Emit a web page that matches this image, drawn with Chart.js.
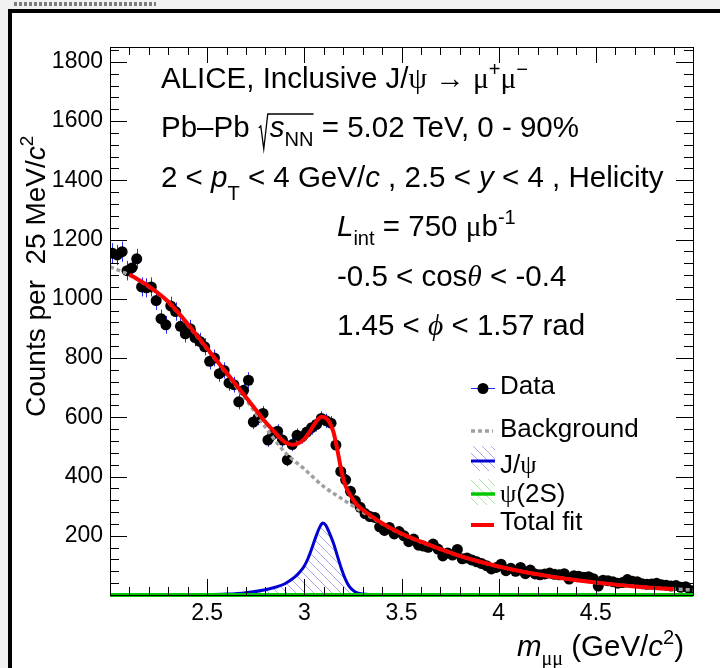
<!DOCTYPE html>
<html><head><meta charset="utf-8">
<script src="https://cdn.jsdelivr.net/npm/chart.js@4.4.0/dist/chart.umd.min.js"></script>
<style>html,body{margin:0;padding:0;background:#f0f0f0;overflow:hidden}
#wrap{position:absolute;left:0;top:0;width:720px;height:668px}
canvas{display:block}</style></head>
<body><div id="wrap"><canvas id="c" width="720" height="668"></canvas></div>
<script>
// ---- data ----
const binLow = 2.0, binWidth = 0.025;
const counts = [
1154,1148,1159,1095,1104,1135,1040,1037,1040,994,
933,912,976,957,907,882,899,869,856,838,
789,800,747,758,716,710,652,691,725,584,
598,613,523,542,553,523,456,508,539,534,
550,565,576,596,588,580,506,417,389,350,
318,296,275,265,262,230,218,228,206,214,
200,180,189,168,165,161,172,155,132,142,
135,154,122,125,118,112,106,99,88,93,
104,82,90,80,93,72,84,71,68,71,
74,70,68,72,54,65,63,60,62,55,
30,50,48,45,40,42,52,46,45,38,
36,37,40,35,33,30,32,26,28,15];
const bkgMass = [2.0,2.1,2.2,2.3,2.4,2.5,2.6,2.7,2.8,2.9,3.0,3.1,3.2,3.3,3.4,3.5,3.6,3.7,3.8,3.9,4.0,4.1,4.2,4.3,4.4,4.5,4.6,4.7,4.8,4.9,5.0];
const bkgValues = [1108,1080,1040,988,912,830,746,660,566,482,425,366,322,280,241,206,179,155,132,113,96,82,70,59,50,42,35,29,24,20,17];
const jpsiMass = [2.0,2.3,2.5,2.6,2.7,2.8,2.85,2.9,2.95,2.98,3.00,3.02,3.04,3.06,3.08,3.095,3.11,3.13,3.15,3.17,3.19,3.21,3.23,3.26,3.30,3.40,3.6,5.0];
const jpsiValues = [0,0.3,1,3,8,18,26,38,60,80,98,125,160,198,230,243,236,208,175,132,90,55,30,11,3,0.5,0,0];
const psi2sMass = [2.0,3.0,4.0,5.0];
const psi2sValues = [0,0,0,0];
const fitMass = [2.10,2.20,2.30,2.40,2.50,2.60,2.70,2.80,2.85,2.90,2.94,2.97,3.00,3.03,3.05,3.07,3.09,3.11,3.13,3.15,3.17,3.19,3.21,3.24,3.27,3.32,3.40,3.50,3.60,3.70,3.80,3.90,4.00,4.10,4.20,4.30,4.40,4.50,4.60,4.70,4.80,4.90];
const fitValues = [1082,1042,990,915,832,750,668,584,548,516,507,512,527,553,575,593,602,598,582,550,490,422,372,333,305,278,242,207,180,155,132,113,96,82,70,59,50,42,35,29,24,20];
const xTicks = [2.5,3,3.5,4,4.5];
const xTickLabels = ['2.5','3','3.5','4','4.5'];
const yTicks = [200,400,600,800,1000,1200,1400,1600,1800];
const yTickLabels = ['200','400','600','800','1000','1200','1400','1600','1800'];
const legendLabels = ['Data','Background','J/ψ','ψ(2S)','Total fit'];

// ---- styles ----
const SANS = '"Liberation Sans", Arial, Helvetica, sans-serif';
const SERIF = '"Liberation Serif", "DejaVu Serif", "Times New Roman", serif';
const canvas = document.getElementById('c');
const ctx0 = canvas.getContext('2d');
function hatch(color, s){
  const t = document.createElement('canvas'); t.width = s; t.height = s;
  const g = t.getContext('2d'); g.strokeStyle = color; g.lineWidth = 1;
  g.beginPath(); g.moveTo(-1,-1); g.lineTo(s+1,s+1);
  g.moveTo(s-2,-2); g.lineTo(s+2,2); g.moveTo(-2,s-2); g.lineTo(2,s+2); g.stroke();
  return ctx0.createPattern(t,'repeat');
}
const blueHatch = hatch('rgba(80,80,235,0.5)', 9);
const greenHatch = hatch('rgba(70,210,70,0.5)', 9);

const pts = (xs, ys) => xs.map((v,i)=>({x:v, y:ys[i]}));
const dataPts = counts.map((c,i)=>({x: binLow + binWidth*(i+0.5), y: c}));

function segFont(s, size){
  const fs = (s.sub||s.sup) ? size*0.68 : size;
  return (s.it?'italic ':'') + fs.toFixed(1) + 'px ' + (s.g?SERIF:SANS);
}
function richWidth(ctx, segs, size){
  let w = 0; segs.forEach(s=>{ ctx.font = segFont(s,size); w += ctx.measureText(s.t).width + (s.dx||0); }); return w;
}
function drawRich(ctx, x, y, segs, size){
  let cx = x;
  for (const s of segs){
    ctx.font = segFont(s, size);
    const dy = s.sub ? size*(s.low||0.3) : (s.sup ? -size*0.42 : 0);
    cx += (s.dx||0);
    ctx.fillText(s.t, cx, y+dy);
    cx += ctx.measureText(s.t).width;
  }
  return cx;
}

const decor = {
  id:'decor',
  beforeDraw(chart){
    const c = chart.ctx;
    c.save();
    c.fillStyle = '#f0f0f0'; c.fillRect(0,0,720,668);
    c.fillStyle = '#ffffff'; c.fillRect(12,13,708,655);
    c.fillStyle = '#000'; c.fillRect(8,9,712,4); c.fillRect(8,9,4,659);
    c.strokeStyle = '#7a7a7a'; c.lineWidth = 4; c.setLineDash([3,2]);
    c.beginPath(); c.moveTo(14,4); c.lineTo(156,4); c.stroke();
    c.restore();
  },
  beforeDatasetsDraw(chart){
    const c = chart.ctx, x = chart.scales.x, y = chart.scales.y;
    c.save(); c.strokeStyle = '#2a2aff'; c.lineWidth = 1;
    c.beginPath();
    dataPts.forEach(p=>{
      const e = Math.sqrt(p.y);
      const px = Math.round(x.getPixelForValue(p.x))+0.5;
      c.moveTo(px, y.getPixelForValue(p.y+e)); c.lineTo(px, y.getPixelForValue(p.y-e));
    });
    c.stroke(); c.restore();
  },
  afterDraw(chart){
    const c = chart.ctx, a = chart.chartArea, x = chart.scales.x, y = chart.scales.y;
    c.save();
    // frame
    c.strokeStyle = '#000'; c.lineWidth = 1;
    c.strokeRect(Math.round(a.left)+0.5, Math.round(a.top)+0.5, Math.round(a.right-a.left), Math.round(a.bottom-a.top));
    c.beginPath();
    for (let k=0; k<=30; k++){
      const v = 2 + k*0.1;
      const px = Math.round(x.getPixelForValue(v))+0.5;
      const L = (k%5===0) ? 16 : 8;
      c.moveTo(px, a.bottom); c.lineTo(px, a.bottom-L);
      c.moveTo(px, a.top); c.lineTo(px, a.top+L);
    }
    for (let k=1; k*40<=1850; k++){
      const v = k*40;
      const py = Math.round(y.getPixelForValue(v))+0.5;
      const L = (k%5===0) ? 17 : 9;
      c.moveTo(a.left, py); c.lineTo(a.left+L, py);
      c.moveTo(a.right, py); c.lineTo(a.right-L, py);
    }
    c.stroke();

    // annotation text
    c.fillStyle = '#000'; c.textBaseline = 'alphabetic'; c.textAlign = 'left';
    const F = 29.5;
    drawRich(c, 161, 88, [{t:'ALICE, Inclusive J/'},{t:'ψ',g:1},{t:' '},{t:'→',g:1},{t:' '},{t:'μ',g:1},{t:'+',sup:1},{t:'μ',g:1},{t:'−',sup:1}], F);
    let xx = drawRich(c, 161, 137, [{t:'Pb–Pb '}], F);
    // radical sign
    const wR = richWidth(c, [{t:'s',it:1},{t:'NN',sub:1}], F);
    c.lineWidth = 1.3; c.beginPath();
    c.moveTo(xx+1, 137-9); c.lineTo(xx+3, 137-11); c.lineTo(xx+6, 137+12); c.lineTo(xx+10, 137-23); c.lineTo(xx+12+wR, 137-23);
    c.stroke();
    drawRich(c, xx+12, 137, [{t:'s',it:1},{t:'NN',sub:1},{t:' = 5.02 TeV, 0 - 90%'}], F);
    drawRich(c, 161, 187, [{t:'2 < '},{t:'p',it:1},{t:'T',sub:1,low:0.45},{t:' < 4 GeV/'},{t:'c',it:1},{t:' , 2.5 < '},{t:'y',it:1},{t:' < 4 , Helicity'}], F);
    drawRich(c, 337, 236, [{t:'L',it:1},{t:'int',sub:1},{t:' = 750 '},{t:'μ',g:1},{t:'b'},{t:'-1',sup:1}], F);
    drawRich(c, 337, 286, [{t:'-0.5 < cos'},{t:'θ',g:1,it:1},{t:' < -0.4'}], F);
    drawRich(c, 337, 335, [{t:'1.45 < '},{t:'ϕ',g:1,it:1},{t:' < 1.57 rad'}], F);

    // legend
    const LF = 26, lx = 500;
    c.strokeStyle = '#2a2aff'; c.lineWidth = 1; c.setLineDash([]);
    c.beginPath(); c.moveTo(471,388.5); c.lineTo(495,388.5); c.stroke();
    c.fillStyle = '#000'; c.beginPath(); c.arc(483,388.5,5.5,0,Math.PI*2); c.fill();
    c.strokeStyle = '#a0a0a0'; c.lineWidth = 3.5; c.setLineDash([4,3]);
    c.beginPath(); c.moveTo(471,431); c.lineTo(493,431); c.stroke(); c.setLineDash([]);
    c.fillStyle = blueHatch; c.fillRect(471,446,24,25);
    c.strokeStyle = '#0000d0'; c.lineWidth = 3; c.beginPath(); c.moveTo(471,461); c.lineTo(495,461); c.stroke();
    c.fillStyle = greenHatch; c.fillRect(471,479,24,26);
    c.strokeStyle = '#00c800'; c.lineWidth = 3.5; c.beginPath(); c.moveTo(471,494); c.lineTo(495,494); c.stroke();
    c.strokeStyle = '#ff0000'; c.lineWidth = 4; c.beginPath(); c.moveTo(471,525); c.lineTo(494,525); c.stroke();
    c.fillStyle = '#000';
    drawRich(c, lx, 394, [{t:legendLabels[0]}], LF);
    drawRich(c, lx, 437, [{t:legendLabels[1]}], LF);
    drawRich(c, lx, 473, [{t:'J/'},{t:'ψ',g:1}], LF);
    drawRich(c, lx, 502, [{t:'ψ',g:1},{t:'(2S)'}], LF);
    drawRich(c, lx, 530, [{t:legendLabels[4]}], LF);

    // axis titles
    const TF = 29.5;
    const segsX = [{t:'m',it:1},{t:'μμ',sub:1,g:1},{t:' (GeV/'},{t:'c',it:1},{t:'2',sup:1},{t:')'}];
    drawRich(c, 684 - richWidth(c, segsX, TF), 656, segsX, TF);
    c.save(); c.translate(45, 417); c.rotate(-Math.PI/2);
    drawRich(c, 0, 0, [{t:'Counts per  25 MeV/'},{t:'c',it:1},{t:'2',sup:1}], 28);
    c.restore();
    c.restore();
  }
};

new Chart(canvas, {
  type: 'scatter',
  data: { datasets: [
    { label:'Total fit', type:'line', data: pts(fitMass, fitValues), borderColor:'#ff0000', borderWidth:4, pointRadius:0, cubicInterpolationMode:'monotone', fill:false, order:0 },
    { label:'ψ(2S)', type:'line', data: pts(psi2sMass, psi2sValues), borderColor:'#00c800', borderWidth:4, pointRadius:0, fill:false, clip:8, order:1 },
    { label:'J/ψ', type:'line', data: pts(jpsiMass, jpsiValues), borderColor:'#0000d0', borderWidth:3, pointRadius:0, cubicInterpolationMode:'monotone', fill:'origin', backgroundColor: blueHatch, order:2 },
    { label:'Background', type:'line', data: pts(bkgMass, bkgValues), borderColor:'#a0a0a0', borderWidth:3.5, borderDash:[4,3], pointRadius:0, cubicInterpolationMode:'monotone', fill:false, order:3 },
    { label:'Data', type:'scatter', data: dataPts, pointRadius:5.5, pointHoverRadius:5.5, backgroundColor:'#000', borderWidth:0, order:4 }
  ]},
  options: {
    responsive:false, animation:false, devicePixelRatio:1,
    layout:{ padding:{ left:0, top:47, right:27, bottom:0 } },
    plugins:{ legend:{display:false}, tooltip:{enabled:false}, title:{display:false} },
    scales:{
      x:{ type:'linear', min:2, max:5,
        afterBuildTicks: s => { s.ticks = xTicks.map(v=>({value:v})); },
        afterFit: s => { s.height = 73; },
        grid:{ display:false, drawTicks:false }, border:{ display:false },
        ticks:{ autoSkip:false, maxRotation:0, padding:5, color:'#000', font:{ family:SANS, size:23 },
          callback: (v) => { const i = xTicks.indexOf(v); return i>=0 ? xTickLabels[i] : ''; } } },
      y:{ type:'linear', min:0, max:1850,
        afterBuildTicks: s => { s.ticks = yTicks.map(v=>({value:v})); },
        afterFit: s => { s.width = 110; },
        grid:{ display:false, drawTicks:false }, border:{ display:false },
        ticks:{ autoSkip:false, padding:7, color:'#000', font:{ family:SANS, size:23 },
          callback: (v) => { const i = yTicks.indexOf(v); return i>=0 ? yTickLabels[i] : ''; } } }
    }
  },
  plugins:[decor]
});
</script></body></html>
